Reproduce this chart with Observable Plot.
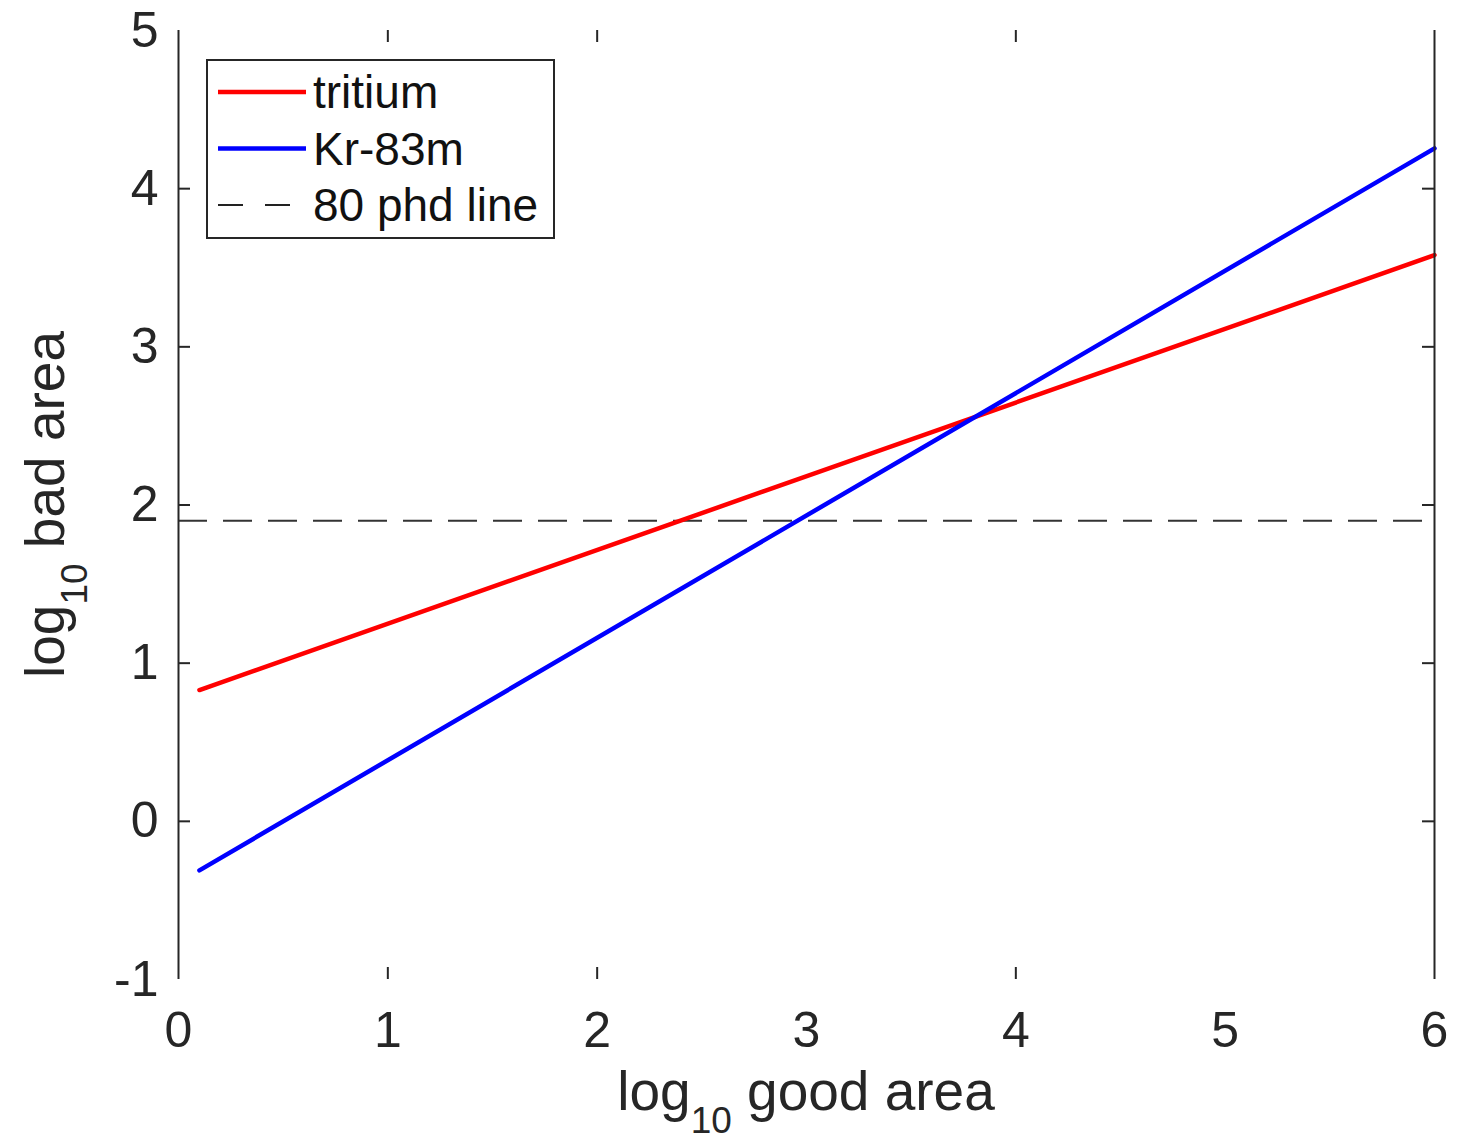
<!DOCTYPE html>
<html>
<head>
<meta charset="utf-8">
<script src="https://cdn.jsdelivr.net/npm/d3@7"></script>
<script src="https://cdn.jsdelivr.net/npm/@observablehq/plot@0.6"></script>
<style>
  html, body { margin: 0; padding: 0; background: #fff; }
  svg { display: block; }
</style>
</head>
<body>
<div id="chart"></div>
<script>
// ---- data ----
const seriesNames = ["tritium", "Kr-83m"];
const seriesColors = ["#ff0000", "#0000ff"];
const xGood = [0.1, 6];
const tritiumBad = [0.83, 3.58];
const krBad = [-0.31, 4.255];
const thresholdName = "80 phd line";
const thresholdY = [1.9];
const xTicks = [0, 1, 2, 3, 4, 5, 6];
const yTicks = [-1, 0, 1, 2, 3, 4, 5];
const xInnerTicks = [1, 2, 4];          // tick marks visible in the original
const yInnerTicks = [0, 1, 2, 3, 4];
const xDomain = [0, 6];
const yDomain = [-1, 5];

// ---- layout ----
const W = 1472, H = 1143;
const mL = 178, mR = 38, mT = 30, mB = 164;
const pw = W - mL - mR, ph = H - mT - mB;
const tickLen = 12;
const axisColor = "#262626";
const font = "'Liberation Sans', Arial, Helvetica, sans-serif";
const fmt = d => String(d);

const lineData = [
  ...xGood.map((x, i) => ({series: seriesNames[0], x, y: tritiumBad[i]})),
  ...xGood.map((x, i) => ({series: seriesNames[1], x, y: krBad[i]}))
];

const chart = Plot.plot({
  width: W, height: H,
  marginLeft: mL, marginRight: mR, marginTop: mT, marginBottom: mB,
  x: {domain: xDomain},
  y: {domain: yDomain},
  color: {domain: seriesNames, range: seriesColors},
  style: {fontFamily: font, background: "white", color: axisColor},
  marks: [
    Plot.ruleY(thresholdY, {stroke: "#333", strokeWidth: 2, strokeDasharray: "29,16"}),
    Plot.line(lineData, {x: "x", y: "y", z: "series", stroke: "series", strokeWidth: 4.5}),
    Plot.ruleX([xDomain[0], xDomain[1]], {stroke: axisColor, strokeWidth: 2}),
    Plot.tickX(xInnerTicks, {x: d => d, insetTop: ph - tickLen, stroke: axisColor, strokeWidth: 2}),
    Plot.tickX(xInnerTicks, {x: d => d, insetBottom: ph - tickLen, stroke: axisColor, strokeWidth: 2}),
    Plot.tickY(yInnerTicks, {y: d => d, insetRight: pw - tickLen, stroke: axisColor, strokeWidth: 2}),
    Plot.tickY(yInnerTicks, {y: d => d, insetLeft: pw - tickLen, stroke: axisColor, strokeWidth: 2}),
    Plot.axisX(xTicks, {tickSize: 0, tickPadding: 32, fontSize: 50, label: null, fill: axisColor, tickFormat: fmt}),
    Plot.axisY(yTicks, {tickSize: 0, tickPadding: 20, fontSize: 50, label: null, fill: axisColor, tickFormat: fmt})
  ]
});
document.getElementById("chart").appendChild(chart);

// ---- axis titles with subscripts ----
const svg = d3.select(chart);
function addTitle(g, main, sub, rest) {
  const t = g.append("text")
    .attr("font-family", font)
    .attr("font-size", 55)
    .attr("fill", axisColor)
    .attr("text-anchor", "middle");
  t.append("tspan").text(main);
  t.append("tspan").attr("font-size", 37).attr("dy", 23).text(sub);
  t.append("tspan").attr("dy", -23).text(rest);
  return t;
}
addTitle(svg.append("g").attr("transform", `translate(${mL + pw / 2},1110)`), "log", "10", " good area");
addTitle(svg.append("g").attr("transform", `translate(64,${mT + ph / 2}) rotate(-90)`), "log", "10", " bad area");

// ---- legend ----
const lg = svg.append("g").attr("transform", "translate(207,60)");
lg.append("rect").attr("width", 347).attr("height", 178)
  .attr("fill", "white").attr("stroke", axisColor).attr("stroke-width", 2);
const entries = [
  {label: seriesNames[0], color: seriesColors[0], dash: null, w: 4.5},
  {label: seriesNames[1], color: seriesColors[1], dash: null, w: 4.5},
  {label: thresholdName, color: "#222", dash: "25,22", w: 2}
];
entries.forEach((e, i) => {
  const cy = 32 + i * 56.5;
  lg.append("line").attr("x1", 11).attr("x2", 99).attr("y1", cy).attr("y2", cy)
    .attr("stroke", e.color).attr("stroke-width", e.w)
    .attr("stroke-dasharray", e.dash);
  lg.append("text").attr("x", 106).attr("y", cy + 16)
    .attr("text-anchor", "start")
    .attr("font-family", font).attr("font-size", 46).attr("fill", "#111")
    .text(e.label);
});
</script>
</body>
</html>
